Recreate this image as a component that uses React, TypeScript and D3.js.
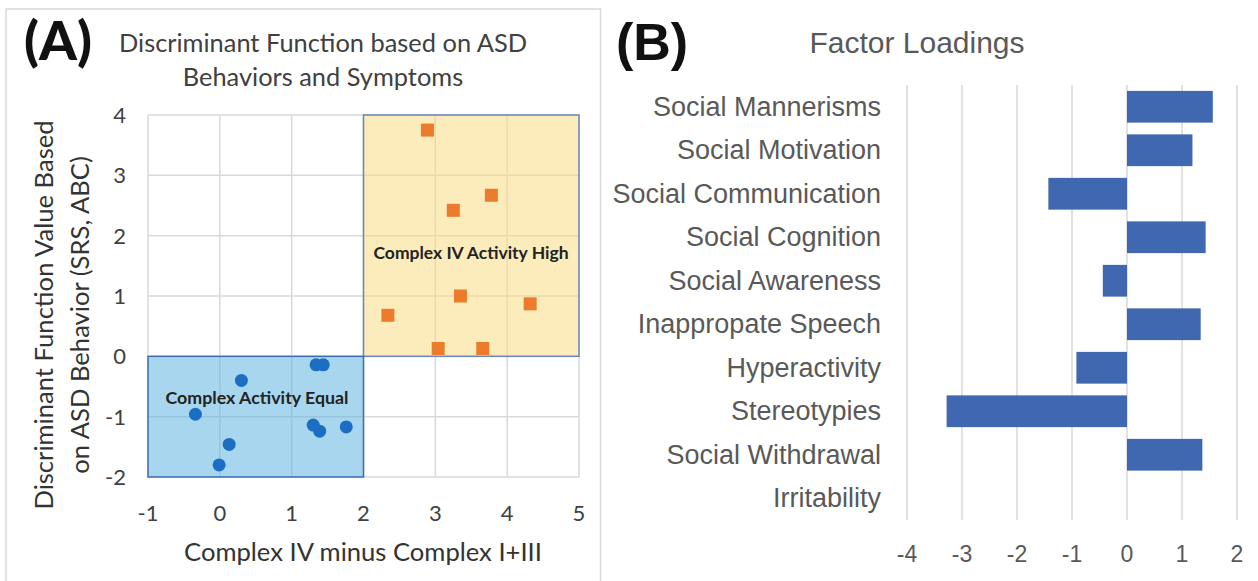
import React, { useEffect, useRef } from "react";
import { select, scaleLinear, scaleBand } from "d3";

// panel A: two groups of subjects
const highX = [2.89, 3.25, 3.78, 3.35, 4.32, 2.34, 3.04, 3.66];
const highY = [3.75, 2.42, 2.67, 1.0, 0.87, 0.68, 0.13, 0.13];
const equalX = [1.34, 1.44, 0.3, -0.34, 1.3, 1.39, 1.76, 0.13, -0.01];
const equalY = [-0.14, -0.14, -0.4, -0.96, -1.14, -1.24, -1.17, -1.46, -1.8];
const xTicksA = [-1, 0, 1, 2, 3, 4, 5];
const yTicksA = [-2, -1, 0, 1, 2, 3, 4];
const highBox = [2, 5, 0, 4]; // x0, x1, y0, y1
const equalBox = [-1, 2, -2, 0];

// panel B: factor loadings
const factorNames = [
    "Social Mannerisms", "Social Motivation", "Social Communication", "Social Cognition",
    "Social Awareness", "Inappropate Speech", "Hyperactivity", "Stereotypies",
    "Social Withdrawal", "Irritability",
];
const factorLoadings = [1.56, 1.19, -1.43, 1.43, -0.44, 1.34, -0.92, -3.28, 1.37, 0];
const xTicksB = [-4, -3, -2, -1, 0, 1, 2];

const fontA = "Lato, 'Open Sans', sans-serif";
const fontB = "'Liberation Sans', Arial, sans-serif";

function App() {
    const svgRef = useRef(null);

    useEffect(() => {
        const svg = select(svgRef.current);
        svg.selectAll("*").remove();

        // ---------- panel A ----------
        const xA = scaleLinear().domain([-1, 5]).range([148, 579]);
        const yA = scaleLinear().domain([-2, 4]).range([477, 115]);
        const a = svg.append("g");

        a.append("path")
            .attr("d", "M6,581 V9 H600.5 V581")
            .attr("fill", "none").attr("stroke", "#d9d9d9").attr("stroke-width", 1.5);

        a.append("g").selectAll("line").data(xTicksA).join("line")
            .attr("x1", d => xA(d)).attr("x2", d => xA(d))
            .attr("y1", yA(-2)).attr("y2", yA(4))
            .attr("stroke", "#d9d9d9").attr("stroke-width", 1.5);
        a.append("g").selectAll("line").data(yTicksA).join("line")
            .attr("x1", xA(-1)).attr("x2", xA(5))
            .attr("y1", d => yA(d)).attr("y2", d => yA(d))
            .attr("stroke", "#d9d9d9").attr("stroke-width", 1.5);

        const boxes = [
            { b: highBox, fill: "rgb(250,220,133)", stroke: "#6a87bd" },
            { b: equalBox, fill: "rgb(97,180,224)", stroke: "#3f6db5" },
        ];
        a.append("g").selectAll("rect").data(boxes).join("rect")
            .attr("x", d => xA(d.b[0])).attr("y", d => yA(d.b[3]))
            .attr("width", d => xA(d.b[1]) - xA(d.b[0]))
            .attr("height", d => yA(d.b[2]) - yA(d.b[3]))
            .attr("fill", d => d.fill).attr("fill-opacity", 0.55)
            .attr("stroke", d => d.stroke).attr("stroke-width", 1.5);

        a.append("g").selectAll("rect").data(highX).join("rect")
            .attr("x", (d, i) => xA(d) - 6.5).attr("y", (d, i) => yA(highY[i]) - 6.5)
            .attr("width", 13).attr("height", 13)
            .attr("fill", "#ec7c2c");
        a.append("g").selectAll("circle").data(equalX).join("circle")
            .attr("cx", d => xA(d)).attr("cy", (d, i) => yA(equalY[i]))
            .attr("r", 6.5).attr("fill", "#1b6ec2");

        a.append("text").text("Complex IV Activity High")
            .attr("x", 471).attr("y", 259).attr("text-anchor", "middle")
            .attr("font-family", fontA).attr("font-weight", "bold").attr("font-size", 17.5)
            .attr("fill", "#222");
        a.append("text").text("Complex Activity Equal")
            .attr("x", 257).attr("y", 404).attr("text-anchor", "middle")
            .attr("font-family", fontA).attr("font-weight", "bold").attr("font-size", 17.8)
            .attr("fill", "#222");

        a.append("g").selectAll("text").data(xTicksA).join("text")
            .text(d => d)
            .attr("x", d => xA(d)).attr("y", 521).attr("text-anchor", "middle")
            .attr("font-family", fontA).attr("font-size", 22).attr("fill", "#404040");
        a.append("g").selectAll("text").data(yTicksA).join("text")
            .text(d => d)
            .attr("x", 126).attr("y", d => yA(d) + 8).attr("text-anchor", "end")
            .attr("font-family", fontA).attr("font-size", 22).attr("fill", "#404040");

        a.append("text").text("Complex IV minus Complex I+III")
            .attr("x", 363).attr("y", 561).attr("text-anchor", "middle")
            .attr("font-family", fontA).attr("font-size", 25.6).attr("fill", "#333");

        const yTitle = a.append("g").attr("transform", "translate(62,315) rotate(-90)")
            .attr("font-family", fontA).attr("font-size", 25.6).attr("fill", "#333")
            .attr("text-anchor", "middle");
        yTitle.append("text").text("Discriminant Function Value Based").attr("y", -9);
        yTitle.append("text").text("on ASD Behavior (SRS, ABC)").attr("y", 27);

        a.append("text").text("(A)")
            .attr("x", 24).attr("y", 60)
            .attr("font-family", fontA).attr("font-weight", 900).attr("font-size", 54)
            .attr("fill", "#111");
        const titleA = a.append("g").attr("font-family", fontA).attr("font-size", 25.4)
            .attr("fill", "#404040").attr("text-anchor", "middle");
        titleA.append("text").text("Discriminant Function based on ASD").attr("x", 323).attr("y", 52);
        titleA.append("text").text("Behaviors and Symptoms").attr("x", 323).attr("y", 86);

        // ---------- panel B ----------
        const xB = scaleLinear().domain([-4, 2]).range([907, 1237]);
        const yB = scaleBand().domain(factorNames).range([85, 520])
            .paddingInner(0.27).paddingOuter(0.135);
        const b = svg.append("g");

        b.append("g").selectAll("line").data(xTicksB).join("line")
            .attr("x1", d => xB(d)).attr("x2", d => xB(d))
            .attr("y1", 85).attr("y2", 520)
            .attr("stroke", "#d9d9d9").attr("stroke-width", 1.5);

        b.append("g").selectAll("rect").data(factorLoadings).join("rect")
            .attr("x", d => xB(Math.min(0, d)))
            .attr("y", (d, i) => yB(factorNames[i]))
            .attr("width", d => Math.abs(xB(d) - xB(0)))
            .attr("height", yB.bandwidth())
            .attr("fill", "#4068b1");

        b.append("g").selectAll("text").data(factorNames).join("text")
            .text(d => d)
            .attr("x", 881).attr("y", d => yB(d) + yB.bandwidth() / 2 + 9)
            .attr("text-anchor", "end")
            .attr("font-family", fontB).attr("font-size", 27).attr("fill", "#595959");

        b.append("g").selectAll("text").data(xTicksB).join("text")
            .text(d => d)
            .attr("x", d => xB(d)).attr("y", 562).attr("text-anchor", "middle")
            .attr("font-family", fontB).attr("font-size", 23).attr("fill", "#595959");

        b.append("text").text("(B)")
            .attr("x", 616).attr("y", 60)
            .attr("font-family", fontB).attr("font-weight", "bold").attr("font-size", 52)
            .attr("fill", "#111");
        b.append("text").text("Factor Loadings")
            .attr("x", 917).attr("y", 53).attr("text-anchor", "middle")
            .attr("font-family", fontB).attr("font-size", 30).attr("fill", "#595959");
    }, []);

    return (
        <div style={{ position: "absolute", left: 0, top: 0 }}>
            <svg ref={svgRef} width={1258} height={581} style={{ display: "block", background: "#fff" }} />
        </div>
    );
}

export default App;
